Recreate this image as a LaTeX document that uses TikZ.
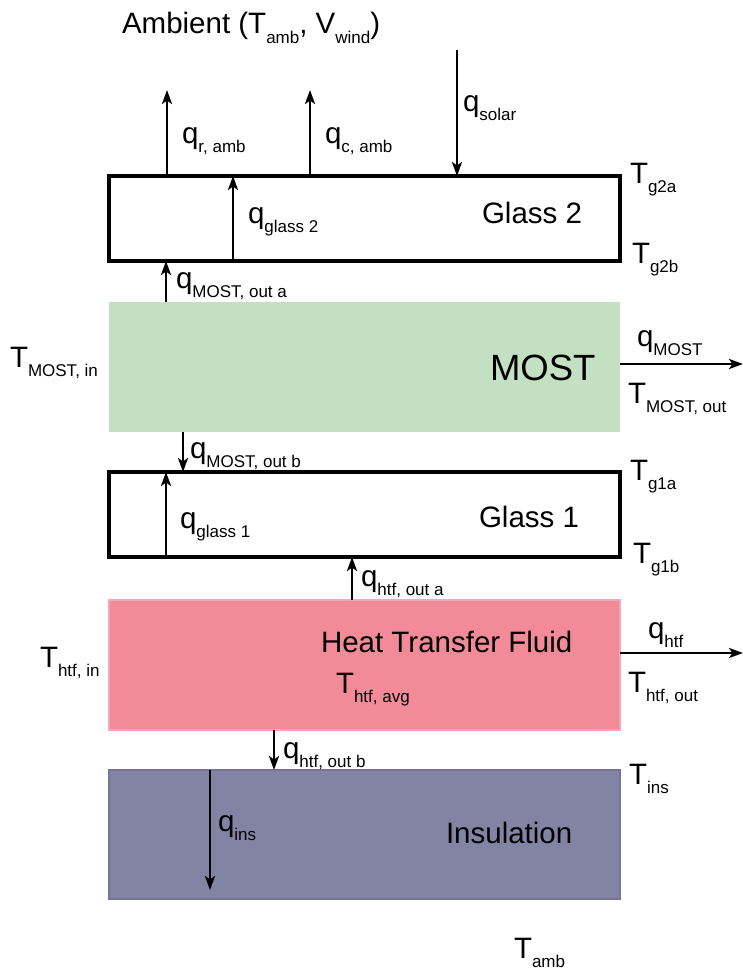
\documentclass[tikz,border=0pt]{standalone}
\usepackage{fontspec}
\setmainfont{Liberation Sans}
\usetikzlibrary{arrows.meta}
\definecolor{mostgreen}{HTML}{C3E0C3}
\definecolor{htfpink}{HTML}{F28B97}
\definecolor{htfborder}{HTML}{F2A6C0}
\definecolor{insblue}{HTML}{8383A3}
\definecolor{insborder}{HTML}{75759A}
\newcommand\qlab[2]{#1\raisebox{-9.5pt}{\fontsize{17}{19}\selectfont #2}}
\tikzset{
  lbl/.style={anchor=base west, inner sep=0pt, outer sep=0pt, font=\fontsize{29.5}{33}\selectfont},
  big/.style={anchor=base west, inner sep=0pt, outer sep=0pt, font=\fontsize{36.5}{40}\selectfont},
  layer/.style={anchor=north west, minimum width=511pt, inner sep=0pt, outer sep=0pt},
  glassbox/.style={layer, draw=black, line width=3.2pt, fill=white},
  arr/.style={line width=2.7pt, -{Stealth[length=14pt,width=10pt,inset=3.5pt]}},
}
\begin{document}
\begin{tikzpicture}[x=1pt,y=-1pt]
\useasboundingbox (0,0) rectangle (743,974);
% layers
\node[glassbox, minimum height=85pt] (g2) at (109,176) {};
\node[layer, fill=mostgreen, minimum height=130pt] (most) at (109,302) {};
\node[glassbox, minimum height=85pt] (g1) at (109,472) {};
\node[layer, fill=htfpink, draw=htfborder, line width=1.5pt, minimum height=130pt] (htf) at (109,600) {};
\node[layer, fill=insblue, draw=insborder, line width=1.5pt, minimum height=129pt] (ins) at (109,770) {};
% labels
\node[lbl] (amb) at (122,34) {Ambient (\qlab{T}{amb}, \qlab{V}{wind})};
\node[lbl] (qr) at (182,143) {\qlab{q}{r, amb}};
\node[lbl] (qc) at (325,143) {\qlab{q}{c, amb}};
\node[lbl] (qs) at (463,111) {\qlab{q}{solar}};
\node[lbl] (qg2) at (248,223) {\qlab{q}{glass 2}};
\node[lbl] (g2t) at (482,223) {Glass 2};
\node[lbl] (tg2a) at (630,183) {\qlab{T}{g2a}};
\node[lbl] (tg2b) at (632,263) {\qlab{T}{g2b}};
\node[lbl] (qmoa) at (176,288) {\qlab{q}{MOST, out a}};
\node[lbl] (tmin) at (10,367) {\qlab{T}{MOST, in}};
\node[big] (mostt) at (490,380) {MOST};
\node[lbl] (qmost) at (637,346) {\qlab{q}{MOST}};
\node[lbl] (tmout) at (628,403) {\qlab{T}{MOST, out}};
\node[lbl] (qmob) at (190,458) {\qlab{q}{MOST, out b}};
\node[lbl] (tg1a) at (630,480) {\qlab{T}{g1a}};
\node[lbl] (g1t) at (479,527) {Glass 1};
\node[lbl] (qg1) at (180,528) {\qlab{q}{glass 1}};
\node[lbl] (tg1b) at (633,563) {\qlab{T}{g1b}};
\node[lbl] (qhoa) at (361,586) {\qlab{q}{htf, out a}};
\node[lbl] (htft) at (321,652) {Heat Transfer Fluid};
\node[lbl] (thavg) at (336,693) {\qlab{T}{htf, avg}};
\node[lbl] (thin) at (40,667) {\qlab{T}{htf, in}};
\node[lbl] (qhtf) at (648,638) {\qlab{q}{htf}};
\node[lbl] (thout) at (628,692) {\qlab{T}{htf, out}};
\node[lbl] (qhob) at (283,758) {\qlab{q}{htf, out b}};
\node[lbl] (tins) at (629,784) {\qlab{T}{ins}};
\node[lbl] (qins) at (218,831) {\qlab{q}{ins}};
\node[lbl] (inst) at (446,843) {Insulation};
\node[lbl] (tamb) at (514,958) {\qlab{T}{amb}};
% arrow end points
\coordinate (rtop) at (167,90);
\coordinate (ctop) at (310,90);
\coordinate (stop) at (457,50);
\coordinate (g2x) at (233,0);
\coordinate (moax) at (166,0);
\coordinate (mobx) at (183,0);
\coordinate (g1x) at (166,0);
\coordinate (hoax) at (352,0);
\coordinate (hobx) at (274,0);
\coordinate (insx) at (210,0);
\coordinate (insend) at (210,890);
\coordinate (mostend) at (743,364);
\coordinate (htfend) at (743,653);
% arrows
\draw[arr] (g2.north -| rtop) -- (rtop);
\draw[arr] (g2.north -| ctop) -- (ctop);
\draw[arr] (stop) -- (g2.north -| stop);
\draw[arr] (g2.south -| g2x) -- (g2.north -| g2x);
\draw[arr] (most.north -| moax) -- (g2.south -| moax);
\draw[arr] (most.south -| mobx) -- (g1.north -| mobx);
\draw[arr] (g1.south -| g1x) -- (g1.north -| g1x);
\draw[arr] (htf.north -| hoax) -- (g1.south -| hoax);
\draw[arr] (htf.south -| hobx) -- (ins.north -| hobx);
\draw[arr] (ins.north -| insx) -- (insend);
\draw[arr] (most.east |- mostend) -- (mostend);
\draw[arr] (htf.east |- htfend) -- (htfend);
\end{tikzpicture}
\end{document}
